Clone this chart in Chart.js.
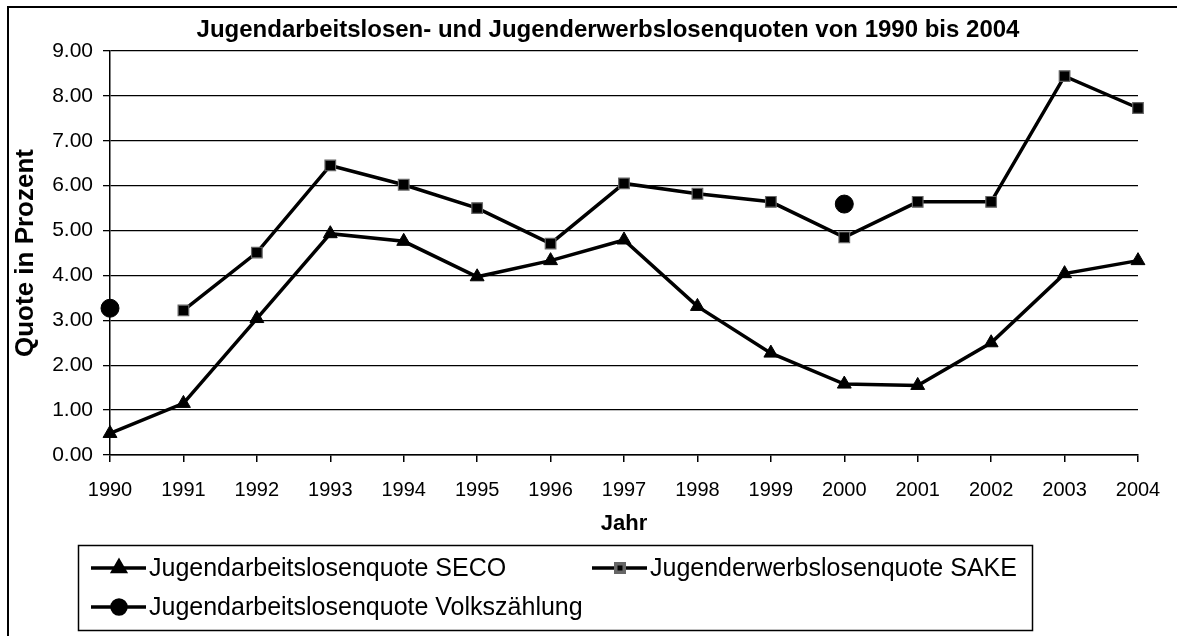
<!DOCTYPE html>
<html>
<head>
<meta charset="utf-8">
<script src="https://cdn.jsdelivr.net/npm/chart.js@4/dist/chart.umd.min.js"></script>
<style>
  html, body { margin: 0; padding: 0; background: #fff; }
  #wrap { width: 1177px; height: 636px; }
</style>
</head>
<body>
<div id="wrap"><canvas id="quotenChart" width="1177" height="636"></canvas></div>
<script>
// Data
const years = ['1990', '1991', '1992', '1993', '1994', '1995', '1996', '1997',
               '1998', '1999', '2000', '2001', '2002', '2003', '2004'];
const secoQuote = [0.48, 1.15, 3.04, 4.93, 4.76, 3.97, 4.33, 4.79, 3.31, 2.27, 1.58, 1.55, 2.50, 4.04, 4.33];
const sakeQuote = [null, 3.22, 4.51, 6.45, 6.02, 5.50, 4.71, 6.05, 5.82, 5.64, 4.85, 5.64, 5.64, 8.44, 7.73];
const vzQuote = [3.27, null, null, null, null, null, null, null, null, null, 5.59, null, null, null, null];
const yTicks = [0, 1, 2, 3, 4, 5, 6, 7, 8, 9];

const titleText = 'Jugendarbeitslosen- und Jugenderwerbslosenquoten von 1990 bis 2004';
const seriesNames = ['Jugendarbeitslosenquote SECO', 'Jugenderwerbslosenquote SAKE', 'Jugendarbeitslosenquote Volkszählung'];

const fontFamily = '"Liberation Sans", Arial, sans-serif';

// Frame around the whole picture and the title
const framePlugin = {
  id: 'frame',
  beforeDraw(chart) {
    const ctx = chart.ctx;
    ctx.save();
    ctx.fillStyle = '#fff';
    ctx.fillRect(0, 0, chart.width, chart.height);
    ctx.strokeStyle = '#000';
    ctx.lineWidth = 2;
    ctx.strokeRect(8, 7, 1300, 700);
    ctx.fillStyle = '#000';
    ctx.font = 'bold 24px ' + fontFamily;
    ctx.textAlign = 'center';
    ctx.textBaseline = 'middle';
    ctx.fillText(titleText, 608, 30);
    ctx.restore();
  }
};

// Legend in a box, two columns
const boxLegendPlugin = {
  id: 'boxLegend',
  afterDraw(chart) {
    const ctx = chart.ctx;
    const slots = [[91, 568], [592, 568], [91, 607]];
    ctx.save();
    ctx.strokeStyle = '#000';
    ctx.lineWidth = 1.5;
    ctx.strokeRect(78.5, 545.5, 954, 85);
    chart.data.datasets.forEach((ds, i) => {
      const x = slots[i][0];
      const y = slots[i][1];
      ctx.strokeStyle = '#000';
      ctx.lineWidth = 3.5;
      ctx.beginPath();
      ctx.moveTo(x, y);
      ctx.lineTo(x + 55, y);
      ctx.stroke();
      ctx.fillStyle = '#000';
      ctx.strokeStyle = ds.pointBorderColor || '#000';
      Chart.helpers.drawPoint(ctx, {
        pointStyle: ds.pointStyle,
        radius: ds.legendRadius,
        rotation: 0,
        borderWidth: 1
      }, x + 28, y);
      ctx.fillStyle = '#000';
      ctx.font = '25px ' + fontFamily;
      ctx.textAlign = 'left';
      ctx.textBaseline = 'middle';
      ctx.fillText(ds.label, x + 58, y + 1);
    });
    ctx.restore();
  }
};

const ctx = document.getElementById('quotenChart').getContext('2d');

new Chart(ctx, {
  type: 'line',
  data: {
    labels: years,
    datasets: [
      {
        label: seriesNames[0],
        data: secoQuote,
        borderColor: '#000',
        borderWidth: 3.5,
        backgroundColor: '#000',
        pointStyle: 'triangle',
        pointRadius: 8,
        pointBorderColor: '#000',
        pointBorderWidth: 1,
        legendRadius: 7
      },
      {
        label: seriesNames[1],
        data: sakeQuote,
        borderColor: '#000',
        borderWidth: 3.5,
        backgroundColor: '#000',
        pointStyle: 'rect',
        pointRadius: 7.5,
        pointBorderColor: '#666',
        pointBorderWidth: 1.2,
        legendRadius: 6
      },
      {
        label: seriesNames[2],
        data: vzQuote,
        showLine: false,
        borderColor: '#000',
        backgroundColor: '#000',
        pointStyle: 'circle',
        pointRadius: 9,
        pointBorderColor: '#000',
        pointBorderWidth: 1,
        legendRadius: 7
      }
    ]
  },
  options: {
    responsive: false,
    animation: false,
    devicePixelRatio: 1,
    layout: {
      padding: { top: 51, left: 10, right: 39, bottom: 91 }
    },
    plugins: {
      legend: { display: false },
      title: { display: false },
      tooltip: { enabled: false }
    },
    scales: {
      x: {
        offset: false,
        border: { display: true, color: '#000', width: 1.5 },
        grid: { drawOnChartArea: false, drawTicks: true, tickLength: 7, color: '#000', lineWidth: 1.5 },
        ticks: {
          color: '#000',
          font: { family: fontFamily, size: 20 },
          padding: 16,
          maxRotation: 0,
          autoSkip: false
        },
        title: {
          display: true,
          text: 'Jahr',
          color: '#000',
          font: { family: fontFamily, size: 22, weight: 'bold' },
          padding: { top: 0, bottom: 8 }
        },
        afterFit(scale) {
          scale.height = 90;
        }
      },
      y: {
        min: 0,
        max: 9,
        border: { display: true, color: '#000', width: 1.5 },
        grid: { color: '#000', lineWidth: 1.3, tickLength: 7, drawTicks: true },
        afterBuildTicks(scale) {
          scale.ticks = yTicks.map(v => ({ value: v }));
        },
        ticks: {
          color: '#000',
          font: { family: fontFamily, size: 21 },
          padding: 10,
          callback: v => v.toFixed(2)
        },
        title: {
          display: true,
          text: 'Quote in Prozent',
          color: '#000',
          font: { family: fontFamily, size: 26, weight: 'bold' },
          padding: { top: 0, bottom: 0 }
        },
        afterFit(scale) {
          scale.width = 100;
        }
      }
    }
  },
  plugins: [framePlugin, boxLegendPlugin]
});
</script>
</body>
</html>
